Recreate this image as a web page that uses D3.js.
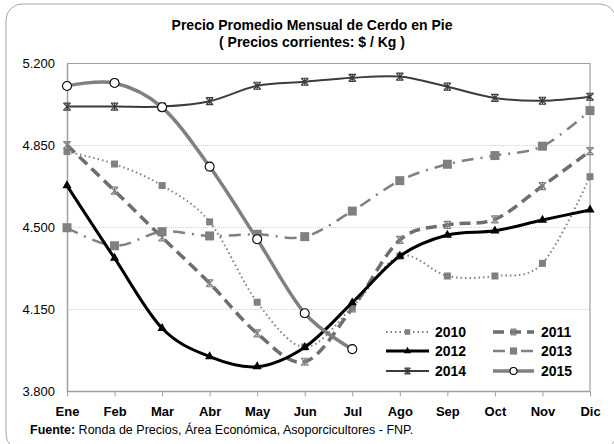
<!DOCTYPE html>
<html>
<head>
<meta charset="utf-8">
<script src="https://cdn.jsdelivr.net/npm/d3@7"></script>
<style>
  body { margin: 0; background: #fff; }
  svg { display: block; font-family: 'Liberation Sans', Arial, sans-serif; }
</style>
</head>
<body>
<svg id="chart" width="614" height="444"></svg>
<script>
const months = ['Ene', 'Feb', 'Mar', 'Abr', 'May', 'Jun', 'Jul', 'Ago', 'Sep', 'Oct', 'Nov', 'Dic'];
const yTicks = [3.8, 4.15, 4.5, 4.85, 5.2];

const v2010 = [4.824, 4.771, 4.679, 4.524, 4.181, 3.990, 4.160, 4.378, 4.293, 4.293, 4.347, 4.717];
const v2011 = [4.852, 4.657, 4.458, 4.262, 4.048, 3.927, 4.155, 4.447, 4.511, 4.535, 4.677, 4.826];
const v2012 = [4.679, 4.369, 4.070, 3.949, 3.906, 3.989, 4.179, 4.378, 4.468, 4.486, 4.532, 4.575];
const v2013 = [4.499, 4.422, 4.482, 4.464, 4.471, 4.461, 4.570, 4.700, 4.770, 4.807, 4.847, 4.999];
const v2014 = [5.016, 5.016, 5.016, 5.039, 5.105, 5.122, 5.139, 5.144, 5.101, 5.053, 5.041, 5.058];
const v2015 = [5.104, 5.117, 5.013, 4.760, 4.450, 4.134, 3.981];

const years = ['2010', '2011', '2012', '2013', '2014', '2015'];

const styles = {
  '2010': {values: v2010, color: '#808080', width: 2, dash: '1.5,3', marker: 'square', size: 7, mfill: '#808080'},
  '2011': {values: v2011, color: '#6e6e6e', width: 3.5, dash: '11,6', marker: 'star', size: 7, mfill: '#808080'},
  '2012': {values: v2012, color: '#000000', width: 3, dash: null, marker: 'triangle', size: 7, mfill: '#000'},
  '2013': {values: v2013, color: '#808080', width: 2.5, dash: '12,7,2,7', marker: 'square', size: 9, mfill: '#808080'},
  '2014': {values: v2014, color: '#3c3c3c', width: 2, dash: null, marker: 'star', size: 7, mfill: '#3c3c3c'},
  '2015': {values: v2015, color: '#808080', width: 3.5, dash: null, marker: 'circle', size: 4.5, mfill: '#fff'}
};

const svg = d3.select('#chart');

// rounded outer frame
svg.append('rect')
  .attr('x', 6).attr('y', 4)
  .attr('width', 610).attr('height', 446)
  .attr('rx', 16)
  .attr('fill', '#fff')
  .attr('stroke', '#a6a6a6')
  .attr('stroke-width', 1);

const x = d3.scalePoint().domain(months).range([67, 590]);
const y = d3.scaleLinear().domain([3.8, 5.2]).range([391.5, 63.5]);

// title
svg.append('text')
  .attr('x', 312).attr('y', 30)
  .attr('text-anchor', 'middle')
  .style('font-size', '14px').style('font-weight', 'bold')
  .text('Precio Promedio Mensual de Cerdo en Pie');
svg.append('text')
  .attr('x', 312).attr('y', 47)
  .attr('text-anchor', 'middle')
  .style('font-size', '14px').style('font-weight', 'bold')
  .text('( Precios corrientes: $ / Kg )');

// gridlines
svg.append('g')
  .selectAll('line')
  .data(yTicks.slice(1, 4))
  .enter()
  .append('line')
  .attr('x1', 67).attr('x2', 590)
  .attr('y1', d => y(d)).attr('y2', d => y(d))
  .attr('stroke', '#cfcfcf')
  .attr('stroke-dasharray', '1,1');

// plot frame (top + right)
svg.append('path')
  .attr('d', `M67,${y(5.2)}H590V${y(3.8)}`)
  .attr('fill', 'none')
  .attr('stroke', '#a0a0a0')
  .attr('stroke-width', 1.2);

// y axis
const yAxis = svg.append('g')
  .attr('transform', 'translate(67,0)')
  .call(d3.axisLeft(y).tickValues(yTicks).tickSize(0).tickPadding(12)
    .tickFormat(d => d3.format('.3f')(d).replace('.', '.')));
yAxis.select('.domain').attr('stroke', '#a0a0a0').attr('stroke-width', 1.5);
yAxis.selectAll('text')
  .style('font-size', '13px')
  .style('font-family', "'Liberation Sans', Arial, sans-serif")
  .attr('fill', '#000');

// x axis
const xAxis = svg.append('g')
  .attr('transform', `translate(0,${y(3.8)})`)
  .call(d3.axisBottom(x).tickSize(5).tickPadding(10));
xAxis.select('.domain').attr('stroke', '#a0a0a0').attr('stroke-width', 1.5).attr('d', 'M67,0H590');
xAxis.selectAll('.tick line').attr('stroke', '#a0a0a0');
xAxis.selectAll('text')
  .style('font-size', '13px')
  .style('font-weight', 'bold')
  .style('font-family', "'Liberation Sans', Arial, sans-serif")
  .attr('fill', '#000');

// series
const line = d3.line()
  .x((d, i) => x(months[i]))
  .y(d => y(d))
  .curve(d3.curveCatmullRom.alpha(0));

function drawMarker(g, type, size, color, fill) {
  if (type === 'square') {
    g.append('rect')
      .attr('x', -size / 2).attr('y', -size / 2)
      .attr('width', size).attr('height', size)
      .attr('fill', fill);
  } else if (type === 'triangle') {
    g.append('path')
      .attr('d', d3.symbol().type(d3.symbolTriangle).size(size * size * 0.75)())
      .attr('fill', fill);
  } else if (type === 'circle') {
    g.append('circle')
      .attr('r', size)
      .attr('fill', fill)
      .attr('stroke', '#000')
      .attr('stroke-width', 1.1);
  } else if (type === 'star') {
    const s = size / 2;
    g.append('path')
      .attr('d', `M${-s},${-s}L${s},${s}M${-s},${s}L${s},${-s}M0,${-s}V${s}M${-s},0H${s}`.replace(/M-?[\d.]+,0H[\d.]+/, ''))
      .attr('stroke', fill)
      .attr('stroke-width', 1.2)
      .attr('fill', 'none');
    g.append('path')
      .attr('d', `M${-s},${-s}H${s}M${-s},${s}H${s}`)
      .attr('stroke', fill)
      .attr('stroke-width', 1.2);
  }
}

const order = ['2010', '2011', '2013', '2012', '2014', '2015'];
order.forEach(yr => {
  const st = styles[yr];
  const g = svg.append('g').attr('class', 'series_' + yr);
  g.append('path')
    .datum(st.values)
    .attr('d', line)
    .attr('fill', 'none')
    .attr('stroke', st.color)
    .attr('stroke-width', st.width)
    .attr('stroke-dasharray', st.dash)
    .attr('stroke-linejoin', 'round');
  st.values.forEach((v, i) => {
    const m = g.append('g').attr('transform', `translate(${x(months[i])},${y(v)})`);
    drawMarker(m, st.marker, st.size, st.color, st.mfill);
  });
});

// legend
const legendCols = [[386, 429, 435], [493, 534, 541]];
const legendRows = [332, 351, 371];
years.forEach((yr, k) => {
  const st = styles[yr];
  const [x1, x2, tx] = legendCols[k % 2];
  const ly = legendRows[Math.floor(k / 2)];
  const g = svg.append('g').attr('class', 'legend_' + yr);
  g.append('line')
    .attr('x1', x1).attr('x2', x2)
    .attr('y1', ly).attr('y2', ly)
    .attr('stroke', st.color)
    .attr('stroke-width', st.width)
    .attr('stroke-dasharray', st.dash);
  const m = g.append('g').attr('transform', `translate(${(x1 + x2) / 2},${ly})`);
  drawMarker(m, st.marker, st.marker === 'circle' ? 3.5 : st.size * 0.8, st.color, st.mfill);
  g.append('text')
    .attr('x', tx).attr('y', ly + 5)
    .style('font-size', '14px')
    .style('font-weight', 'bold')
    .text(yr);
});

// source note
const src = svg.append('text')
  .attr('x', 30).attr('y', 434)
  .style('font-size', '12.5px');
src.append('tspan').style('font-weight', 'bold').text('Fuente:');
src.append('tspan').text(' Ronda de Precios, Área Económica, Asoporcicultores - FNP.');
</script>
</body>
</html>
